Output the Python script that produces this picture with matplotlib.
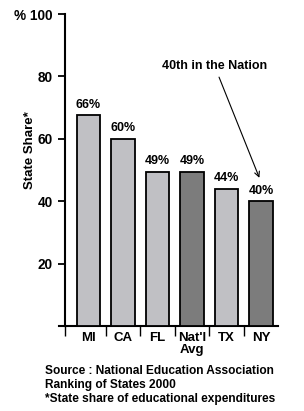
import matplotlib.pyplot as plt
from matplotlib import font_manager

categories = ["MI", "CA", "FL", "Nat'l\nAvg", "TX", "NY"]
values = [67.5, 60, 49.5, 49.5, 44, 40]
value_labels = ["66%", "60%", "49%", "49%", "44%", "40%"]
highlight = [False, False, False, True, False, True]
y_ticks = [0, 20, 40, 60, 80, 100]
y_ticklabels = ["", "20", "40", "60", "80", "% 100"]

names = {f.name for f in font_manager.fontManager.ttflist}
fam = "Liberation Sans Narrow" if "Liberation Sans Narrow" in names else "Liberation Sans"
plt.rcParams["font.family"] = [fam, "DejaVu Sans"]
plt.rcParams["font.weight"] = "bold"

fig = plt.figure(figsize=(3.04, 4.11), dpi=100)
ax = fig.add_axes([0.2138, 0.2068, 0.7007, 0.759])

colors = ["#7c7c7c" if h else "#c0c0c4" for h in highlight]
x = list(range(len(categories)))
ax.bar(x, values, width=0.69, color=colors, edgecolor="black", linewidth=1.3, zorder=3)

for xi, v, lab in zip(x, values, value_labels):
    ax.text(xi, v + 1.4, lab, ha="center", va="bottom", fontsize=9, fontweight="bold")

ax.set_xlim(-0.68, 5.49)
ax.set_ylim(0, 100)

ax.set_yticks(y_ticks)
ax.set_yticklabels(y_ticklabels, fontsize=9.8, fontweight="bold")
ax.tick_params(axis="y", direction="out", length=5, width=1.3, pad=4)

# category dividers as major ticks, labels on minor ticks
ax.set_xticks([-0.68, 0.5, 1.5, 2.5, 3.5, 4.5])
ax.set_xticklabels([])
ax.tick_params(axis="x", which="major", direction="out", length=7, width=1)
ax.set_xticks(x, minor=True)
ax.set_xticklabels(categories, minor=True, fontsize=9.5, fontweight="bold", linespacing=1.0)
ax.tick_params(axis="x", which="minor", length=0, pad=4)

for s in ["top", "right"]:
    ax.spines[s].set_visible(False)
ax.spines["left"].set_linewidth(1.5)
ax.spines["bottom"].set_linewidth(1.5)
ax.spines["bottom"].set_bounds(-0.85, 5.49)

ax.set_ylabel("State Share*", fontsize=9.5, fontweight="bold")
ax.yaxis.set_label_coords(-0.135, 0.564)

ax.annotate("40th in the Nation", xy=(4.95, 47.5), xytext=(3.65, 81.5),
            ha="center", va="bottom", fontsize=9, fontweight="bold",
            arrowprops=dict(arrowstyle="->", color="black", lw=0.8, shrinkA=2, shrinkB=0))

fig.text(0.148, 0.063, "Source : National Education Association\nRanking of States 2000\n*State share of educational expenditures",
         ha="left", va="center", fontsize=8.6, fontweight="bold", linespacing=1.25)

fig.savefig("out.png", dpi=100)
